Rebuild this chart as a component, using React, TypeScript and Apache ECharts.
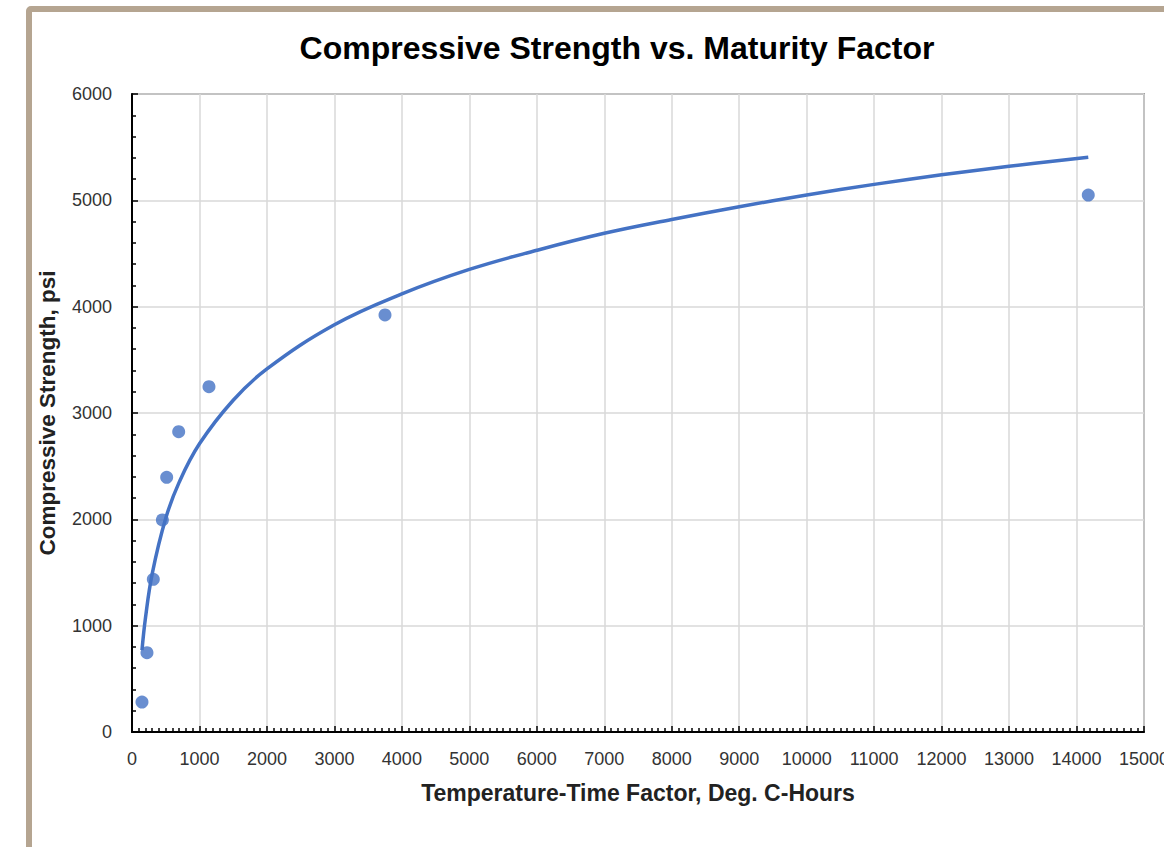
import React, { useEffect, useRef } from "react";
import * as echarts from "echarts";

const titleText = "Compressive Strength vs. Maturity Factor";
const xAxisName = "Temperature-Time Factor, Deg. C-Hours";
const yAxisName = "Compressive Strength, psi";

// measured points
const pointX = [148, 222, 316, 450, 514, 692, 1141, 3750, 14174];
const pointY = [282, 746, 1436, 1994, 2395, 2824, 3248, 3922, 5050];

// trend line
const trendX = [148, 200, 300, 500, 700, 1000, 1500, 2000, 3000, 4000, 5000, 6000, 7000, 8000, 9000, 10000, 11000, 12000, 13000, 14174];
const trendY = [770, 1075, 1490, 2010, 2350, 2710, 3120, 3415, 3830, 4120, 4350, 4530, 4690, 4820, 4940, 5050, 5150, 5240, 5320, 5405];

export default function App() {
  const ref = useRef<HTMLDivElement>(null);
  useEffect(() => {
    if (!ref.current) return;
    const chart = echarts.init(ref.current, null, { renderer: "svg" });
    const font = "'Liberation Sans', Arial, sans-serif";
    chart.setOption({
      animation: false,
      backgroundColor: "#ffffff",
      textStyle: { fontFamily: font },
      title: {
        text: titleText,
        left: 612,
        textAlign: "center",
        top: 27,
        textStyle: { fontSize: 32, fontWeight: "bold", color: "#000", fontFamily: font },
      },
      graphic: [
        {
          type: "rect",
          shape: { x: 29, y: 9, width: 1200, height: 900, r: 2 },
          style: { fill: "none", stroke: "#b5a591", lineWidth: 6 },
          z: 100,
        },
      ],
      grid: {
        left: 132,
        top: 94,
        right: 20,
        bottom: 115,
        show: true,
        borderColor: "#5a5a5a",
        borderWidth: 1.5,
        containLabel: false,
        outerBoundsMode: "none",
      },
      xAxis: {
        type: "value",
        min: 0,
        max: 15000,
        interval: 1000,
        name: xAxisName,
        nameLocation: "middle",
        nameGap: 49,
        nameTextStyle: { fontSize: 23, fontWeight: "bold", color: "#222", fontFamily: font },
        axisLine: { show: true, onZero: false, lineStyle: { color: "#000", width: 2 } },
        axisTick: { show: true, inside: true, length: 6, lineStyle: { color: "#000", width: 1.5 } },
        minorTick: { show: true, splitNumber: 10, length: 4, lineStyle: { color: "#000", width: 1.5 } },
        axisLabel: { fontSize: 18, color: "#333", margin: 18, fontFamily: font, formatter: (v: number) => String(v) },
        splitLine: { show: true, lineStyle: { color: "#d9d9d9", width: 1.5 } },
      },
      yAxis: {
        type: "value",
        min: 0,
        max: 6000,
        interval: 1000,
        name: yAxisName,
        nameLocation: "middle",
        nameGap: 73,
        nameRotate: 90,
        nameTextStyle: { fontSize: 22.5, fontWeight: "bold", color: "#222", fontFamily: font },
        axisLine: { show: true, onZero: false, lineStyle: { color: "#000", width: 2 } },
        axisTick: { show: true, inside: true, length: 6, lineStyle: { color: "#000", width: 1.5 } },
        minorTick: { show: true, splitNumber: 5, length: 4, lineStyle: { color: "#000", width: 1.5 } },
        axisLabel: { fontSize: 18, color: "#333", margin: 20, fontFamily: font, formatter: (v: number) => String(v) },
        splitLine: { show: true, lineStyle: { color: "#d9d9d9", width: 1.5 } },
      },
      series: [
        {
          type: "line",
          data: trendX.map((x, i) => [x, trendY[i]]),
          smooth: 0.4,
          showSymbol: false,
          lineStyle: { color: "#4472C4", width: 3.5 },
          z: 2,
        },
        {
          type: "scatter",
          data: pointX.map((x, i) => [x, pointY[i]]),
          symbolSize: 13,
          itemStyle: { color: "#4472C4" },
          z: 3,
        },
      ],
    });
    return () => chart.dispose();
  }, []);
  return (
    <div
      ref={ref}
      style={{ position: "fixed", left: 0, top: 0, width: 1164, height: 847 }}
    />
  );
}
